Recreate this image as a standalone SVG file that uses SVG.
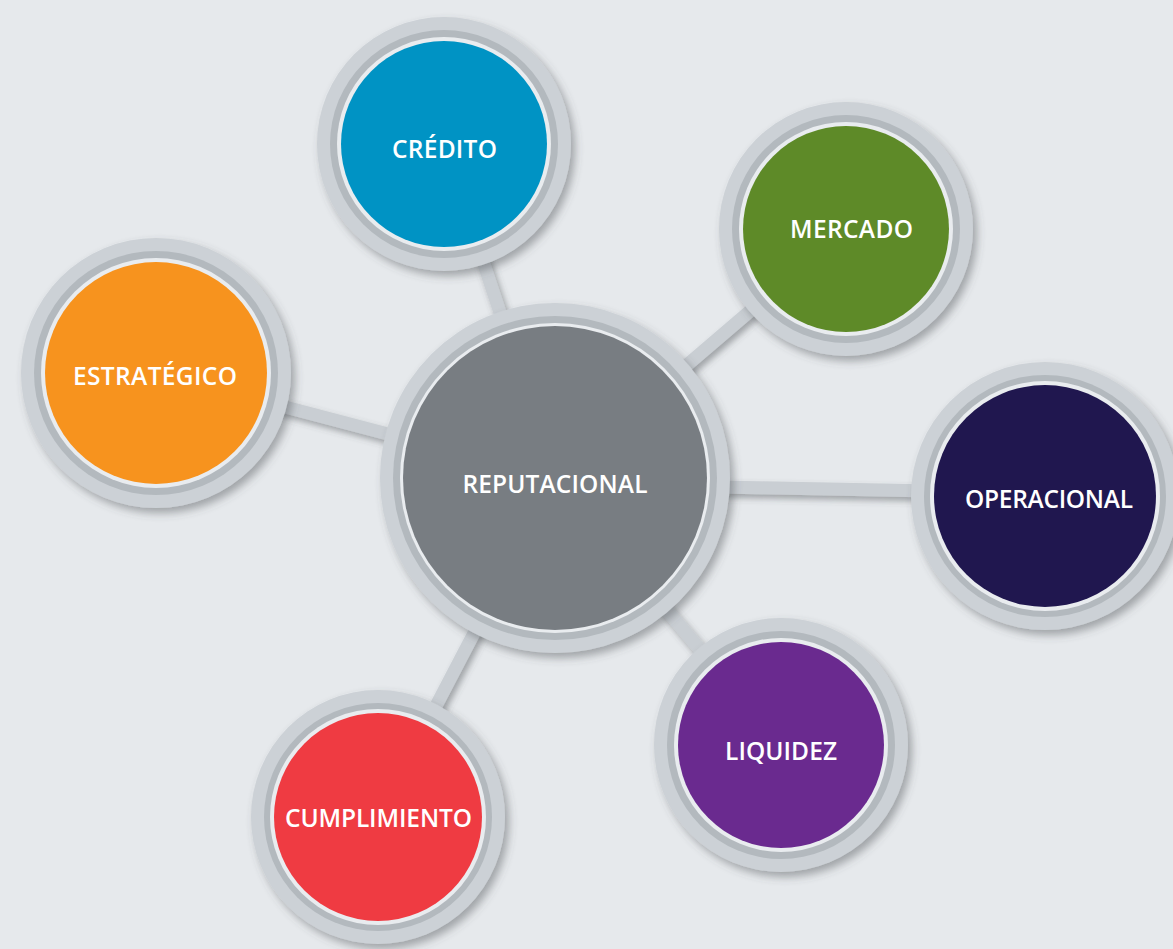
<svg xmlns="http://www.w3.org/2000/svg" width="1173" height="949" viewBox="0 0 1173 949">
<defs>
<filter id="sh" x="-20%" y="-20%" width="150%" height="150%">
<feDropShadow dx="4" dy="5" stdDeviation="4" flood-color="#4a4f55" flood-opacity="0.45"/>
</filter>
<filter id="lsh" x="-20%" y="-50%" width="140%" height="200%">
<feDropShadow dx="3" dy="4" stdDeviation="3" flood-color="#4a4f55" flood-opacity="0.45"/>
</filter>
</defs>
<style>
.o{fill:#ccd1d6}
.d{fill:#b3b9be}
.w{fill:#e9ecef}
.c line{stroke:#c9ced3;stroke-width:13}
text{font-family:"Open Sans","Liberation Sans",sans-serif;font-weight:600;font-size:24.5px;fill:#ffffff;text-anchor:middle}
</style>
<rect width="1173" height="949" fill="#e6e9ec"/>
<g id="connectors" class="c" filter="url(#lsh)">
<line x1="444" y1="144" x2="555" y2="478"/>
<line x1="156" y1="373" x2="555" y2="478"/>
<line x1="846" y1="229" x2="555" y2="478"/>
<line x1="555" y1="484" x2="1045" y2="493"/>
<line x1="781" y1="745" x2="555" y2="478"/>
<line x1="378" y1="817" x2="555" y2="478"/>
</g>
<g id="reputacional">
<circle class="o" cx="555" cy="478" r="175" filter="url(#sh)"/>
<circle class="d" cx="555" cy="478" r="162"/>
<circle class="w" cx="555" cy="478" r="155"/>
<circle cx="555" cy="478" r="152" fill="#787d82"/>
<text x="555" y="493" textLength="185">REPUTACIONAL</text>
</g>
<g id="credito">
<circle class="o" cx="444" cy="144" r="127" filter="url(#sh)"/>
<circle class="d" cx="444" cy="144" r="114"/>
<circle class="w" cx="444" cy="144" r="107"/>
<circle cx="444" cy="144" r="103" fill="#0093c4"/>
<text x="444.5" y="158" textLength="105">CRÉDITO</text>
</g>
<g id="estrategico">
<circle class="o" cx="156" cy="373" r="135" filter="url(#sh)"/>
<circle class="d" cx="156" cy="373" r="122"/>
<circle class="w" cx="156" cy="373" r="115"/>
<circle cx="156" cy="373" r="111" fill="#f7931e"/>
<text x="155" y="385" textLength="164">ESTRATÉGICO</text>
</g>
<g id="mercado">
<circle class="o" cx="846" cy="229" r="127" filter="url(#sh)"/>
<circle class="d" cx="846" cy="229" r="114"/>
<circle class="w" cx="846" cy="229" r="107"/>
<circle cx="846" cy="229" r="103" fill="#5e8a28"/>
<text x="851.5" y="238" textLength="123">MERCADO</text>
</g>
<g id="operacional">
<circle class="o" cx="1045" cy="496" r="134" filter="url(#sh)"/>
<circle class="d" cx="1045" cy="496" r="121"/>
<circle class="w" cx="1045" cy="496" r="115"/>
<circle cx="1045" cy="496" r="111" fill="#20174f"/>
<text x="1049" y="508" textLength="168">OPERACIONAL</text>
</g>
<g id="liquidez">
<circle class="o" cx="781" cy="745" r="127" filter="url(#sh)"/>
<circle class="d" cx="781" cy="745" r="114"/>
<circle class="w" cx="781" cy="745" r="107"/>
<circle cx="781" cy="745" r="103" fill="#6a2a8f"/>
<text x="781" y="760" textLength="112">LIQUIDEZ</text>
</g>
<g id="cumplimiento">
<circle class="o" cx="378" cy="817" r="127" filter="url(#sh)"/>
<circle class="d" cx="378" cy="817" r="114"/>
<circle class="w" cx="378" cy="817" r="108"/>
<circle cx="378" cy="817" r="104" fill="#ef3b42"/>
<text x="378.5" y="827" textLength="187">CUMPLIMIENTO</text>
</g>
</svg>
